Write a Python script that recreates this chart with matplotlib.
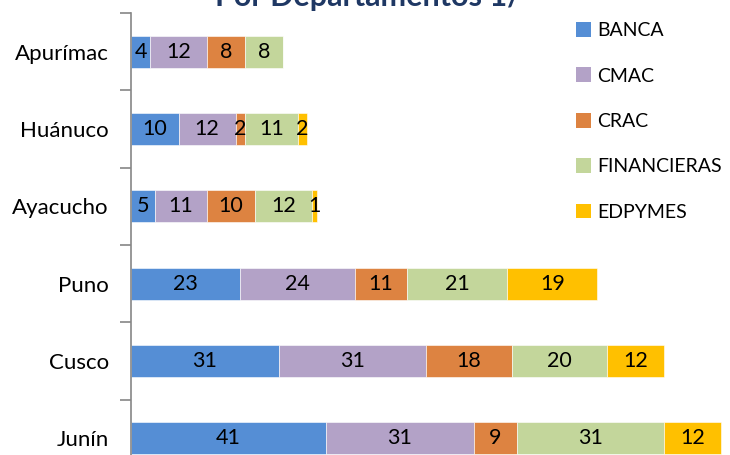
import numpy as np
import matplotlib.pyplot as plt
from matplotlib.patches import Patch

plt.rcParams['font.family'] = ['Lato', 'DejaVu Sans']

# Datos
departamentos = ['Apurímac', 'Huánuco', 'Ayacucho', 'Puno', 'Cusco', 'Junín']
entidades = ['BANCA', 'CMAC', 'CRAC', 'FINANCIERAS', 'EDPYMES']
banca = [4, 10, 5, 23, 31, 41]
cmac = [12, 12, 11, 24, 31, 31]
crac = [8, 2, 10, 11, 18, 9]
financieras = [8, 11, 12, 21, 20, 31]
edpymes = [0, 2, 1, 19, 12, 12]
colores = ['#558ED5', '#B3A2C7', '#DD8341', '#C3D69B', '#FFC000']

series = [banca, cmac, crac, financieras, edpymes]

fig = plt.figure(figsize=(7.3, 4.55), dpi=100)
ax = fig.add_axes([131 / 730, -22 / 455, 125 * 4.76 / 730, 464 / 455])

y = np.arange(len(departamentos))[::-1]
izq = np.zeros(len(departamentos))
for nombre, valores, color in zip(entidades, series, colores):
    valores = np.array(valores)
    barras = ax.barh(y, valores, left=izq, height=0.41, color=color,
                     edgecolor='white', linewidth=0.4, label=nombre)
    for b, v in zip(barras, valores):
        if v > 0:
            ax.text(b.get_x() + b.get_width() / 2, b.get_y() + b.get_height() / 2,
                    str(v), ha='center', va='center', fontsize=15.5, color='black')
    izq += valores

ax.set_xlim(0, 125)
ax.set_ylim(-0.5, 5.5)
ax.set_yticks(y)
ax.set_yticklabels(departamentos, fontsize=16)
ax.set_yticks(np.arange(-0.5, 6, 1), minor=True)
ax.tick_params(axis='y', which='major', length=0, pad=16)
ax.tick_params(axis='y', which='minor', length=8, color='#868686', width=1.2, direction='out')
ax.set_xticks([])
for s in ['top', 'right', 'bottom']:
    ax.spines[s].set_visible(False)
ax.spines['left'].set_color('#868686')
ax.spines['left'].set_linewidth(1.2)

fig.text(0.505, 1 - 6 / 455, 'Por Departamentos 1/', ha='center', va='baseline',
         fontsize=22, fontweight='bold', color='#1F3864')

handles = [Patch(facecolor=c, edgecolor='none') for c in colores]
fig.legend(handles, entidades, loc='upper left', bbox_to_anchor=(576 / 730, 1 - 22 / 455),
           frameon=False, fontsize=14, handlelength=0.78, handleheight=0.78,
           handletextpad=0.3, labelspacing=1.46, borderaxespad=0, borderpad=0)

fig.savefig('out.png', dpi=100)
